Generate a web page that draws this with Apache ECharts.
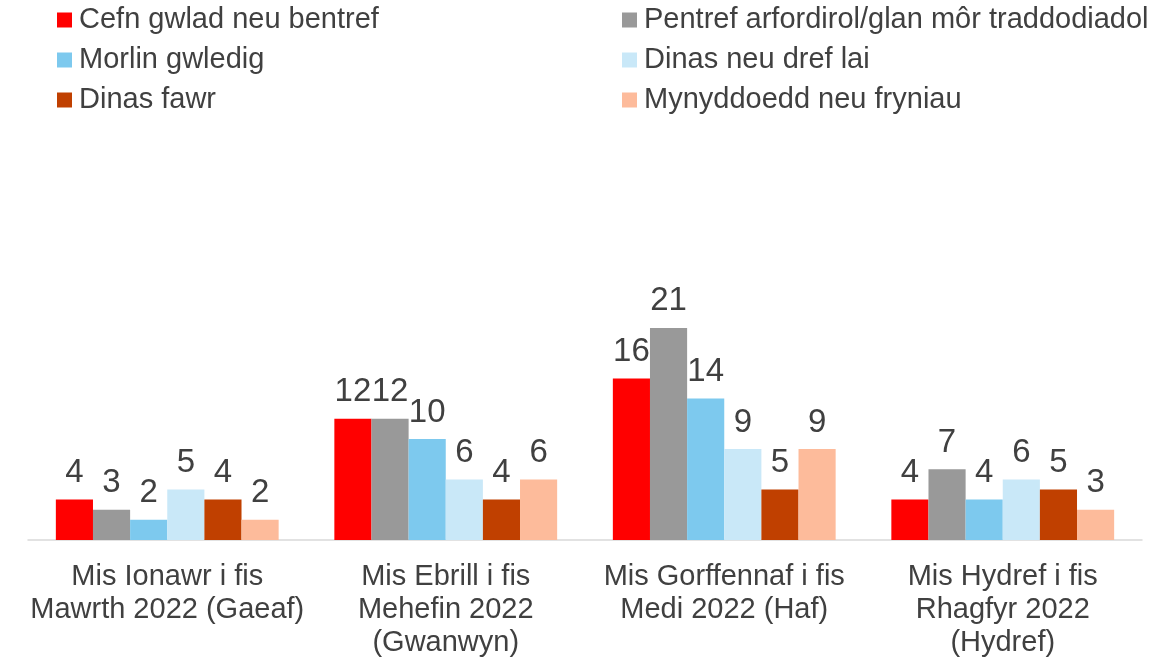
<!DOCTYPE html>
<html>
<head>
<meta charset="utf-8">
<script src="https://cdn.jsdelivr.net/npm/echarts@6/dist/echarts.min.js"></script>
<style>
  html, body { margin: 0; padding: 0; background: #fff; }
  #chart { width: 1158px; height: 661px; }
</style>
</head>
<body>
<div id="chart"></div>
<script>
var categories = [
    'Mis Ionawr i fis\nMawrth 2022 (Gaeaf)',
    'Mis Ebrill i fis\nMehefin 2022\n(Gwanwyn)',
    'Mis Gorffennaf i fis\nMedi 2022 (Haf)',
    'Mis Hydref i fis\nRhagfyr 2022\n(Hydref)'
];
var seriesNames = [
    'Cefn gwlad neu bentref',
    'Pentref arfordirol/glan môr traddodiadol',
    'Morlin gwledig',
    'Dinas neu dref lai',
    'Dinas fawr',
    'Mynyddoedd neu fryniau'
];
var cefnGwlad = [4, 12, 16, 4];
var pentrefArfordirol = [3, 12, 21, 7];
var morlinGwledig = [2, 10, 14, 4];
var dinasLai = [5, 6, 9, 6];
var dinasFawr = [4, 4, 5, 5];
var mynyddoedd = [2, 6, 9, 3];
var colors = ['#ff0000', '#999999', '#7dc9ee', '#c9e8f8', '#c04000', '#fdbb9b'];

var values = [cefnGwlad, pentrefArfordirol, morlinGwledig, dinasLai, dinasFawr, mynyddoedd];
var font = 'Arial, "Liberation Sans", sans-serif';

var chart = echarts.init(document.getElementById('chart'));

var legendStyle = {
    orient: 'vertical',
    top: 5,
    padding: 0,
    itemWidth: 15,
    itemHeight: 15,
    itemGap: 10,
    icon: 'rect',
    textStyle: { fontSize: 29, lineHeight: 30, color: '#404040', fontFamily: font, padding: [0, 0, 0, 2] }
};

var option = {
    animation: false,
    color: colors,
    legend: [
        Object.assign({ left: 57, data: [seriesNames[0], seriesNames[2], seriesNames[4]] }, legendStyle),
        Object.assign({ left: 622, data: [seriesNames[1], seriesNames[3], seriesNames[5]] }, legendStyle)
    ],
    grid: { left: 28, right: 16, top: 136, bottom: 121 },
    xAxis: {
        type: 'category',
        data: categories,
        axisLine: { lineStyle: { color: '#d9d9d9', width: 1.5 } },
        axisTick: { show: false },
        axisLabel: { fontSize: 29, lineHeight: 33, color: '#404040', fontFamily: font, margin: 20, interval: 0 }
    },
    yAxis: {
        type: 'value',
        min: 0,
        max: 40,
        show: false,
        splitLine: { show: false }
    },
    series: seriesNames.map(function (name, i) {
        return {
            name: name,
            type: 'bar',
            data: values[i],
            barGap: 0,
            barCategoryGap: '20%',
            label: {
                show: true,
                position: 'top',
                distance: 10,
                fontSize: 33,
                color: '#404040',
                fontFamily: font
            }
        };
    })
};

chart.setOption(option);
</script>
</body>
</html>
